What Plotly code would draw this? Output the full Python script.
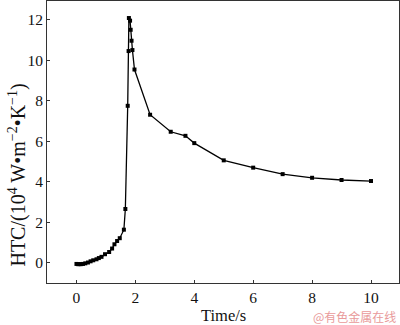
import plotly.graph_objects as go

time_s = [0, 0.05, 0.1, 0.15, 0.22, 0.3, 0.39, 0.48, 0.57, 0.68, 0.76, 0.85, 0.97,
          1.11, 1.21, 1.29, 1.38, 1.47, 1.61, 1.66, 1.74, 1.77, 1.78, 1.82, 1.84,
          1.87, 1.90, 1.97, 2.5, 3.2, 3.7, 4.0, 5.0, 6.0, 7.0, 8.0, 9.0, 10.0]
htc = [-0.05, -0.06, -0.06, -0.06, -0.05, -0.02, 0.02, 0.08, 0.13, 0.18, 0.24, 0.30, 0.43,
       0.54, 0.71, 0.92, 1.08, 1.22, 1.64, 2.66, 7.75, 10.45, 12.08, 11.95, 11.5,
       10.96, 10.5, 9.54, 7.31, 6.47, 6.27, 5.91, 5.06, 4.70, 4.38, 4.20, 4.09, 4.04]

x_ticks = [0, 2, 4, 6, 8, 10]
y_ticks = [0, 2, 4, 6, 8, 10, 12]

font = "Liberation Serif, Times New Roman, serif"

fig = go.Figure()
fig.add_trace(go.Scatter(
    x=time_s, y=htc, mode="lines+markers",
    line=dict(color="black", width=1.3),
    marker=dict(symbol="square", size=4, color="black"),
    showlegend=False,
))

axis_common = dict(
    showgrid=False, zeroline=False, showline=True, linecolor="#333", linewidth=1,
    mirror=True, ticks="inside", ticklen=3, tickcolor="#333",
    tickfont=dict(family=font, size=15.5, color="#111"),
)
fig.update_xaxes(range=[-1.0, 10.95], tickvals=x_ticks, **axis_common)
fig.update_yaxes(range=[-0.99, 12.92], tickvals=y_ticks, **axis_common)

fig.add_annotation(
    text="Time/s", xref="paper", yref="paper", x=0.5, y=-0.115,
    xanchor="center", yanchor="middle", showarrow=False,
    font=dict(family=font, size=16.5, color="#111"),
)
fig.add_annotation(
    text="HTC/(10<sup>4</sup> W•m<sup>−2</sup>•K<sup>−1</sup>)",
    xref="paper", yref="paper", x=-0.126, y=0.05,
    xanchor="left", yanchor="bottom", textangle=-90, showarrow=False,
    font=dict(family=font, size=20, color="#111"),
)
fig.add_annotation(
    text="@有色金属在线", xref="paper", yref="paper", x=0.997, y=-0.12,
    xanchor="right", yanchor="middle", showarrow=False,
    font=dict(family="Noto Sans CJK SC", size=12, color="#e99a9a"),
)

fig.update_layout(
    width=400, height=325,
    margin=dict(l=47, r=1, t=1, b=42),
    plot_bgcolor="white", paper_bgcolor="white",
)

fig.write_html("out.html")
